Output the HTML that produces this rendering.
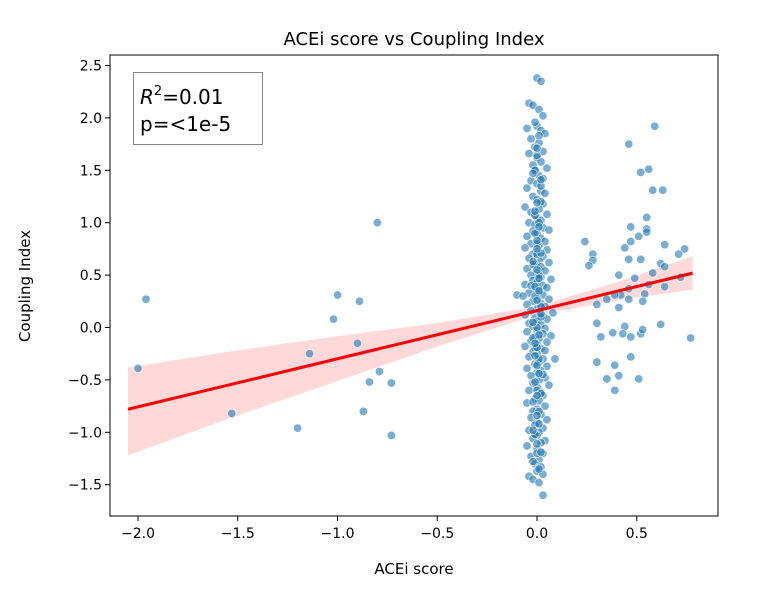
<!DOCTYPE html>
<html><head><meta charset="utf-8">
<style>
html,body{margin:0;padding:0;background:#fff;}
svg{display:block;font-family:"DejaVu Sans","Liberation Sans",sans-serif;}
</style></head>
<body>
<svg id="chart" width="768" height="602" viewBox="0 0 768 602" xmlns="http://www.w3.org/2000/svg">
  <rect width="768" height="602" fill="#fff"/>
  <text x="414" y="45" font-size="18" text-anchor="middle" fill="#000">ACEi score vs Coupling Index</text>
  <text x="414" y="574" font-size="15" text-anchor="middle" fill="#000">ACEi score</text>
  <text x="0" y="0" font-size="15" text-anchor="middle" fill="#000" transform="translate(30,286) rotate(-90)">Coupling Index</text>
  <g id="band"></g>
  <g id="points"></g>
  <g id="reg"></g>
  <g id="axes"></g>
  <g>
    <rect x="133.5" y="72.5" width="129" height="72" fill="#fff" stroke="#888" stroke-width="1"/>
    <text x="140" y="104" font-size="20" fill="#000"><tspan font-style="italic">R</tspan><tspan font-size="13" dy="-9">2</tspan><tspan dy="9">=0.01</tspan></text>
    <text x="140" y="131" font-size="20" fill="#000">p=&lt;1e-5</text>
  </g>
</svg>
<script>
const xTicks = [-2.0,-1.5,-1.0,-0.5,0.0,0.5];
const yTicks = [-1.5,-1.0,-0.5,0.0,0.5,1.0,1.5,2.0,2.5];
const sideX = [-1.96,-2.0,-0.80,-1.0,-0.89,-1.02,-0.90,-1.14,-0.79,-0.84,-0.73,-1.53,-0.87,-1.20,-0.73,
0.59,0.46,0.52,0.56,0.58,0.63,0.55,0.47,0.55,0.55,0.51,0.47,0.24,0.44,0.64,0.74,0.71,0.28,0.28,0.26,0.46,0.52,0.62,0.64,0.41,0.58,0.49,0.72,0.64,0.56,0.46,0.54,0.42,0.39,0.35,0.30,0.41,0.46,0.53,0.30,0.44,0.38,0.43,0.32,0.47,0.52,0.53,0.62,0.77,0.47,0.30,0.39,0.35,0.41,0.51,0.39];
const sideY = [0.27,-0.39,1.00,0.31,0.25,0.08,-0.15,-0.25,-0.42,-0.52,-0.53,-0.82,-0.80,-0.96,-1.03,
1.92,1.75,1.48,1.51,1.31,1.31,1.05,0.96,0.94,0.91,0.87,0.82,0.82,0.76,0.79,0.75,0.70,0.70,0.64,0.59,0.65,0.65,0.61,0.58,0.50,0.52,0.47,0.48,0.39,0.41,0.37,0.32,0.31,0.31,0.27,0.22,0.19,0.27,0.25,0.04,0.01,-0.05,-0.06,-0.09,-0.09,-0.06,-0.02,0.03,-0.10,-0.28,-0.33,-0.36,-0.49,-0.46,-0.49,-0.60];
const centerX = [0.0,0.02,-0.04,-0.02,0.01,0.03,-0.05,0.0,0.02,0.04,-0.03,0.01,-0.01,0.03,-0.04,0.0,0.02,-0.02,0.05,-0.01,0.01,0.03,-0.03,0.0,-0.05,0.02,0.04,-0.02,0.0,0.03,-0.06,0.01,-0.03,0.05,0.0,0.02,-0.04,-0.01,0.03,0.06,-0.02,0.0,-0.05,0.02,0.04,-0.03,0.01,-0.06,0.05,0.0,-0.02,0.03,-0.04,0.01,0.06,-0.01,0.02,-0.05,0.04,0.0,-0.03,0.02,0.07,-0.02,0.0,-0.06,0.03,0.05,-0.01,0.01,-0.04,0.03,-0.1,-0.07,0.0,0.06,-0.02,0.02,-0.05,0.04,0.0,-0.03,0.01,0.08,-0.06,0.03,-0.01,0.05,0.0,-0.04,0.02,-0.02,0.04,0.0,-0.05,0.03,0.07,-0.01,0.01,-0.03,0.05,0.0,-0.06,0.02,0.04,-0.02,0.0,0.09,-0.04,0.03,0.01,-0.01,0.05,-0.05,0.02,0.0,-0.03,0.04,0.01,-0.02,0.06,0.0,-0.04,0.02,0.03,-0.01,0.01,-0.05,0.04,0.0,-0.02,0.02,-0.03,0.05,0.0,-0.01,0.03,-0.04,0.01,0.0,-0.02,0.04,0.02,-0.05,0.0,0.03,-0.03,0.01,-0.01,0.02,0.0,-0.04,0.03,-0.02,0.01,0.03,
0.01,-0.01,0.02,-0.02,0.0,0.01,-0.01,0.0,0.02,-0.02,0.0,0.01,-0.01,0.02,0.0,-0.03,0.03,0.0,-0.01,0.01,
-0.01,0.01,0.0,-0.02,0.02,0.0,-0.01,0.01,0.0,0.02,-0.02,0.0,0.01,-0.01,0.0,0.02,-0.02,0.01,0.0,-0.01,
0.0,0.01,-0.01,0.02,-0.02,0.0,0.01,-0.01,0.0,0.02,-0.02,0.01,0.0,-0.01,0.01,0.0,-0.01,0.02,0.0,-0.02];
const centerY = [2.38,2.35,2.14,2.12,2.08,2.02,1.9,1.92,1.88,1.85,1.8,1.76,1.72,1.68,1.66,1.62,1.58,1.55,1.52,1.5,1.45,1.42,1.4,1.37,1.33,1.3,1.28,1.25,1.22,1.18,1.15,1.13,1.1,1.08,1.05,1.02,1.0,0.98,0.95,0.93,0.92,0.9,0.87,0.85,0.82,0.8,0.78,0.76,0.74,0.72,0.7,0.68,0.66,0.64,0.62,0.6,0.58,0.56,0.54,0.52,0.5,0.48,0.46,0.45,0.43,0.41,0.4,0.38,0.36,0.34,0.33,0.31,0.31,0.3,0.28,0.27,0.25,0.23,0.22,0.2,0.18,0.16,0.15,0.14,0.12,0.11,0.09,0.08,0.06,0.04,0.03,0.01,-0.01,-0.03,-0.04,-0.06,-0.08,-0.09,-0.11,-0.13,-0.14,-0.16,-0.18,-0.2,-0.22,-0.23,-0.25,-0.3,-0.28,-0.3,-0.33,-0.35,-0.37,-0.39,-0.41,-0.43,-0.46,-0.48,-0.5,-0.53,-0.55,-0.57,-0.6,-0.62,-0.65,-0.68,-0.7,-0.72,-0.75,-0.78,-0.8,-0.83,-0.86,-0.88,-0.9,-0.93,-0.96,-0.98,-1.0,-1.03,-1.06,-1.08,-1.1,-1.13,-1.16,-1.2,-1.23,-1.26,-1.3,-1.33,-1.37,-1.42,-1.4,-1.45,-1.48,-1.6,
0.5,0.3,0.1,-0.1,0.7,-0.3,0.9,-0.6,1.2,0.6,0.0,-0.8,1.5,0.2,-1.2,0.4,-0.45,0.8,-0.2,1.0,
1.96,1.83,1.64,1.47,1.35,1.19,1.07,0.96,0.83,0.71,0.63,0.55,0.47,0.39,0.26,0.13,0.05,-0.07,-0.19,-0.27,
-0.36,-0.44,-0.52,-0.63,-0.71,-0.84,-0.92,-1.02,-1.11,-1.19,-1.28,-1.35,-0.65,-0.15,0.35,0.75,1.11,1.41,1.71,-0.98];
const bandX = [-2.05,-1.5,-1.0,-0.5,0.0,0.4,0.78];
const fitY = [-0.78,-0.528,-0.298,-0.069,0.161,0.345,0.519];
const bandLo = [-1.22,-0.838,-0.512,-0.181,0.121,0.258,0.36];
const bandHi = [-0.38,-0.218,-0.084,0.043,0.201,0.432,0.678];

const L=110,R=718,T=55,B=516;
const sx = v => 537 + v*199.5;
const sy = v => 327.5 - v*104.8;
const NS='http://www.w3.org/2000/svg';
function mk(tag, attrs, parent){const e=document.createElementNS(NS,tag);for(const k in attrs)e.setAttribute(k,attrs[k]);parent.appendChild(e);return e;}

const band=document.getElementById('band');
let d='M'+bandX.map((x,i)=>sx(x)+','+sy(bandHi[i])).join(' L');
d+=' L'+bandX.slice().reverse().map((x,i)=>sx(x)+','+sy(bandLo[bandX.length-1-i])).join(' L')+' Z';
const bp=mk('path',{d:d,fill:'#ff0000','fill-opacity':'0.15',stroke:'none'},band);



const pts=document.getElementById('points');
function dot(x,y){
  const c=mk('circle',{cx:sx(x),cy:sy(y),r:4.2,fill:'#1f77b4','fill-opacity':'0.6',stroke:'#fff','stroke-width':'0.6'},pts);
  
  
}
centerX.forEach((x,i)=>dot(x,centerY[i]));
sideX.forEach((x,i)=>dot(x,sideY[i]));

const reg=document.getElementById('reg');
const rl=mk('polyline',{points:bandX.map((x,i)=>sx(x)+','+sy(fitY[i])).join(' '),fill:'none',stroke:'#ff0000','stroke-width':'3'},reg);



const ax=document.getElementById('axes');
const fr=mk('rect',{x:L,y:T,width:R-L,height:B-T,fill:'none',stroke:'#000','stroke-width':'1'},ax);


xTicks.forEach(t=>{
  const x=sx(t);
  mk('line',{x1:x,y1:B,x2:x,y2:B+5,stroke:'#000'},ax);
  const tx=mk('text',{x:x,y:B+22,'font-size':'14','text-anchor':'middle',fill:'#000'},ax);
  tx.textContent=(t<0?'\u2212':'')+Math.abs(t).toFixed(1);
  
  
});
yTicks.forEach(t=>{
  const y=sy(t);
  mk('line',{x1:L-5,y1:y,x2:L,y2:y,stroke:'#000'},ax);
  const tx=mk('text',{x:L-8,y:y+5,'font-size':'14','text-anchor':'end',fill:'#000'},ax);
  tx.textContent=(t<0?'\u2212':'')+Math.abs(t).toFixed(1);
  
  
});
</script>
</body></html>
